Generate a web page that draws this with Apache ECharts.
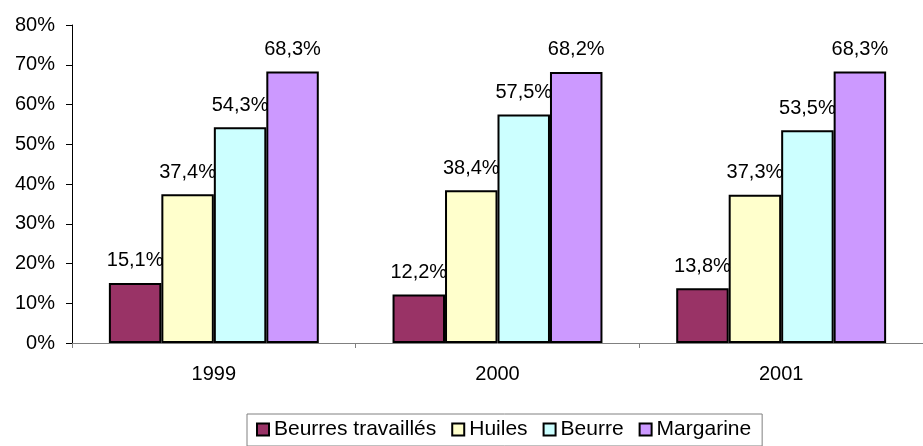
<!DOCTYPE html>
<html><head><meta charset="utf-8">
<script src="https://cdn.jsdelivr.net/npm/echarts@6/dist/echarts.min.js"></script>
<style>html,body{margin:0;padding:0;background:#fff;}#c{width:923px;height:446px;}</style>
</head><body><div id="c"></div>
<script>
const categories = ['1999', '2000', '2001'];
const seriesNames = ['Beurres travaillés', 'Huiles', 'Beurre', 'Margarine'];
const beurresTravailles = [15.1, 12.2, 13.8];
const huiles = [37.4, 38.4, 37.3];
const beurre = [54.3, 57.5, 53.5];
const margarine = [68.3, 68.2, 68.3];
const yTicks = [0, 10, 20, 30, 40, 50, 60, 70, 80];
const colors = ['#993366', '#FFFFCC', '#CCFFFF', '#CC99FF'];

const dataSets = [beurresTravailles, huiles, beurre, margarine];
const font = 'Liberation Sans, Arial, sans-serif';
const chart = echarts.init(document.getElementById('c'));
chart.setOption({
  animation: false,
  grid: {left: 72, top: 25, width: 861, height: 318},
  legend: {
    left: 247, top: 414,
    padding: [5, 11, 6, 9],
    borderColor: '#808080', borderWidth: 1,
    itemWidth: 12, itemHeight: 12, itemGap: 15,
    icon: 'rect',
    textStyle: {fontFamily: font, fontSize: 21, color: '#000'},
    data: seriesNames
  },
  xAxis: {
    type: 'category', data: categories,
    axisLine: {lineStyle: {color: '#808080', width: 1}},
    axisTick: {show: true, length: 5, lineStyle: {color: '#808080'}},
    axisLabel: {fontFamily: font, fontSize: 20, color: '#000', margin: 21}
  },
  yAxis: {
    type: 'value', min: yTicks[0], max: yTicks[yTicks.length - 1], interval: 10,
    axisLine: {show: true, lineStyle: {color: '#000', width: 1}},
    axisTick: {show: true, length: 6, lineStyle: {color: '#000'}},
    splitLine: {show: false},
    axisLabel: {fontFamily: font, fontSize: 20, color: '#000', margin: 17, formatter: v => v + '%'}
  },
  series: seriesNames.map((n, i) => ({
    name: n, type: 'bar', data: dataSets[i],
    barGap: '0%', barCategoryGap: '26%',
    itemStyle: {color: colors[i], borderColor: '#000', borderWidth: 2},
    label: {
      show: true, position: 'top', distance: 12,
      fontFamily: font, fontSize: 20, color: '#000',
      formatter: p => p.value.toFixed(1).replace('.', ',') + '%'
    }
  }))
});
</script></body></html>
